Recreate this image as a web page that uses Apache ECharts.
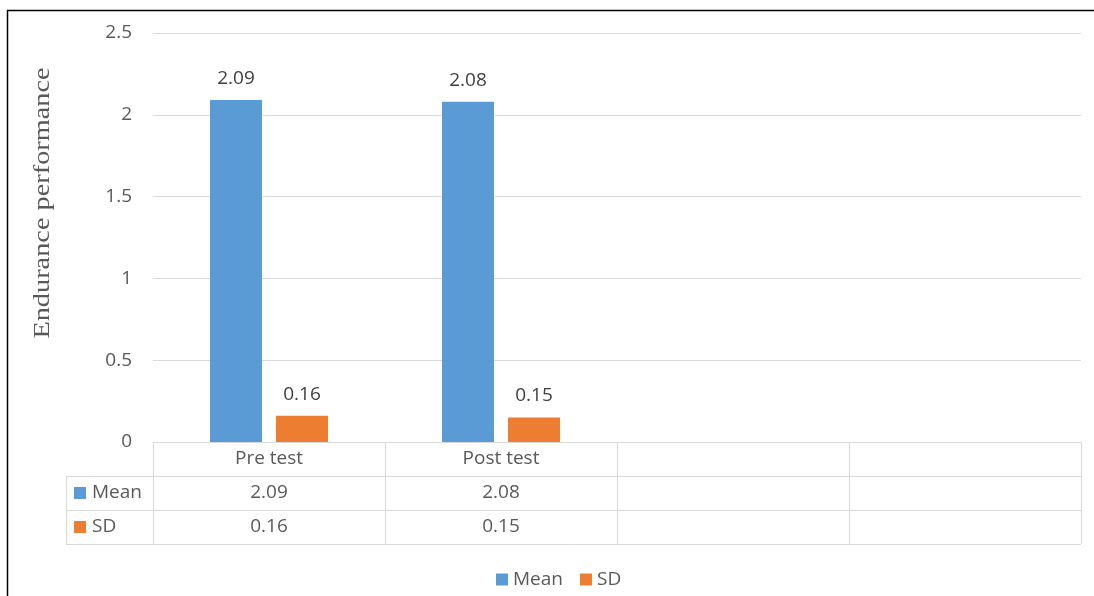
<!DOCTYPE html>
<html>
<head>
<meta charset="utf-8">
<script src="https://cdn.jsdelivr.net/npm/echarts@6/dist/echarts.min.js"></script>
<style>
  html, body { margin: 0; padding: 0; background: #ffffff; }
  #chart { width: 1094px; height: 596px; }
</style>
</head>
<body>
<div id="chart"></div>
<script>
// Endurance performance: mean and standard deviation, pre and post test
const categories = ['Pre test', 'Post test', '', ''];
const meanValues = [2.09, 2.08, null, null];
const sdValues = [0.16, 0.15, null, null];
const seriesNames = ['Mean', 'SD'];
const seriesColors = ['#5B9BD5', '#ED7D31'];
const yTicks = { min: 0, max: 2.5, interval: 0.5 };
const axisTitle = 'Endurance performance';

const FONT = '"Open Sans", "Liberation Sans", sans-serif';
const TEXT = '#595959';
const LINE = '#d9d9d9';

const chart = echarts.init(document.getElementById('chart'), null, { renderer: 'canvas' });

const valueLabel = {
  show: true,
  position: 'top',
  distance: 12,
  color: '#404040',
  fontFamily: FONT,
  fontSize: 19,
  formatter: p => p.value == null ? '' : p.value.toFixed(2)
};

chart.setOption({
  animation: false,
  backgroundColor: '#ffffff',
  grid: { left: 153, right: 13, top: 33, bottom: 154, containLabel: false },
  legend: {
    data: seriesNames,
    left: 491,
    top: 565,
    icon: 'rect',
    itemWidth: 12,
    itemHeight: 12,
    itemGap: 17,
    textStyle: { color: TEXT, fontFamily: FONT, fontSize: 19 }
  },
  xAxis: {
    type: 'category',
    data: categories,
    axisLine: { show: true, lineStyle: { color: LINE, width: 1 } },
    axisTick: { show: false },
    axisLabel: { color: TEXT, fontFamily: FONT, fontSize: 19, margin: 7 },
    splitLine: { show: false }
  },
  yAxis: {
    type: 'value',
    min: yTicks.min,
    max: yTicks.max,
    interval: yTicks.interval,
    axisLine: { show: false },
    axisTick: { show: false },
    axisLabel: { color: TEXT, fontFamily: FONT, fontSize: 19, margin: 21 },
    splitLine: { lineStyle: { color: LINE, width: 1 } }
  },
  series: [
    {
      name: seriesNames[0], type: 'bar', data: meanValues,
      barWidth: 52, barGap: '27%',
      itemStyle: { color: seriesColors[0] },
      label: valueLabel
    },
    {
      name: seriesNames[1], type: 'bar', data: sdValues,
      barWidth: 52, barGap: '27%',
      itemStyle: { color: seriesColors[1] },
      label: valueLabel
    }
  ]
});

// Data table under the plot, laid out from the category axis positions
function buildTable() {
  const c0 = chart.convertToPixel({ xAxisIndex: 0 }, 0);
  const c1 = chart.convertToPixel({ xAxisIndex: 0 }, 1);
  const band = c1 - c0;
  const x0 = c0 - band / 2;
  const xEnd = x0 + band * categories.length;
  const yAxisLine = chart.convertToPixel({ yAxisIndex: 0 }, 0);
  const rowH = 34;
  const tableLeft = 66;
  const rows = [yAxisLine, yAxisLine + rowH, yAxisLine + 2 * rowH, yAxisLine + 3 * rowH];
  const lineStyle = { stroke: LINE, lineWidth: 1 };
  const els = [];

  // horizontal rules of the series rows
  for (let r = 1; r < rows.length; r++) {
    const y = Math.round(rows[r]) + 0.5;
    els.push({ type: 'line', shape: { x1: tableLeft, y1: y, x2: xEnd, y2: y }, style: lineStyle, silent: true });
  }
  // vertical rules
  els.push({ type: 'line', shape: { x1: tableLeft + 0.5, y1: rows[1], x2: tableLeft + 0.5, y2: rows[3] }, style: lineStyle, silent: true });
  for (let i = 0; i <= categories.length; i++) {
    const x = Math.round(x0 + band * i) + 0.5;
    els.push({ type: 'line', shape: { x1: x, y1: rows[0], x2: x, y2: rows[3] }, style: lineStyle, silent: true });
  }
  // row headers with colour keys, and values
  const rowData = [meanValues, sdValues];
  rowData.forEach((vals, r) => {
    const cy = (rows[r + 1] + rows[r + 2]) / 2;
    els.push({ type: 'rect', shape: { x: 74, y: Math.round(cy - 6), width: 12, height: 12 }, style: { fill: seriesColors[r] }, silent: true });
    els.push({
      type: 'text', x: 92, y: cy, silent: true,
      style: { text: seriesNames[r], fill: TEXT, font: '19px ' + FONT, textAlign: 'left', textVerticalAlign: 'middle' }
    });
    vals.forEach((v, i) => {
      if (v == null) return;
      els.push({
        type: 'text', x: x0 + band * (i + 0.5), y: cy, silent: true,
        style: { text: v.toFixed(2), fill: TEXT, font: '19px ' + FONT, textAlign: 'center', textVerticalAlign: 'middle' }
      });
    });
  });

  // vertical axis title
  els.push({
    type: 'text', x: 43, y: 203, rotation: Math.PI / 2, scaleX: 1.18, silent: true,
    style: { text: axisTitle, fill: TEXT, font: '24px "Liberation Serif", "DejaVu Serif", serif', textAlign: 'center', textVerticalAlign: 'middle' }
  });

  // outer frame (top and left edges)
  els.push({
    type: 'polyline', silent: true,
    shape: { points: [[7.5, 596], [7.5, 10.5], [1094, 10.5]] },
    style: { stroke: '#000000', lineWidth: 1.5, fill: null }
  });

  chart.setOption({ graphic: { elements: els } });
}
buildTable();
</script>
</body>
</html>
